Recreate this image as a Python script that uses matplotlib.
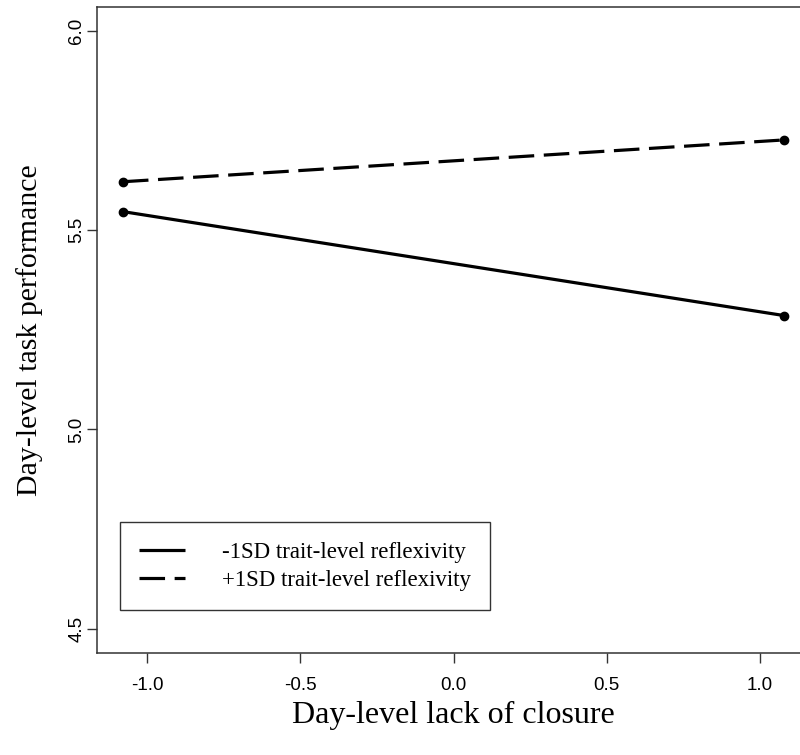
import matplotlib
matplotlib.use("Agg")
import matplotlib.pyplot as plt

# Data
x_vals = [-1.08, 1.08]
low_reflex = [5.547, 5.286]    # -1SD trait-level reflexivity
high_reflex = [5.622, 5.727]   # +1SD trait-level reflexivity
series_labels = ["-1SD trait-level reflexivity", "+1SD trait-level reflexivity"]
x_ticks = [-1.0, -0.5, 0.0, 0.5, 1.0]
y_ticks = [4.5, 5.0, 5.5, 6.0]

fig = plt.figure(figsize=(8, 7.55), dpi=100)
L, R, B, T = 96.5, 810.5, 652.5, 7.3
ax = fig.add_axes([L / 800, (755 - B) / 755, (R - L) / 800, (B - T) / 755])

ax.plot(x_vals, low_reflex, color="black", lw=2.3, ls="-",
        marker="o", ms=6, label=series_labels[0], solid_capstyle="butt")
ax.plot(x_vals, high_reflex, color="black", lw=2.3, ls=(0, (8, 3)),
        marker="o", ms=6, label=series_labels[1], dash_capstyle="butt")

xr = 1.08 * 1.08
ax.set_xlim(-xr, xr)
ax.set_ylim(4.44, 6.06)

ax.set_xticks(x_ticks)
ax.set_xticklabels(["-1.0", "-0.5", "0.0", "0.5", "1.0"],
                   family="Liberation Sans", fontsize=13.5)
ax.set_yticks(y_ticks)
ax.set_yticklabels(["4.5", "5.0", "5.5", "6.0"], family="Liberation Sans",
                   fontsize=13.5, rotation=90, va="center")
ax.tick_params(direction="out", length=7, width=1, color="#333333")
ax.tick_params(axis="x", pad=11)
ax.tick_params(axis="y", pad=1)
for s in ax.spines.values():
    s.set_linewidth(1.1)
    s.set_color("#333333")

ax.set_xlabel("Day-level lack of closure", family="Liberation Serif",
              fontsize=23, labelpad=5)
ax.set_ylabel("Day-level task performance", family="Liberation Serif",
              fontsize=21.5, labelpad=18)

leg = ax.legend(loc="lower left", bbox_to_anchor=((120 - L) / (R - L), (B - 610) / (B - T)),
                prop={"family": "Liberation Serif", "size": 16.5},
                frameon=True, fancybox=False, edgecolor="black",
                handlelength=2.0, borderpad=0.85, labelspacing=0.3,
                handletextpad=1.6, borderaxespad=0)
leg.get_frame().set_linewidth(1.0)
for h in leg.legend_handles:
    h.set_marker("")

fig.savefig("out.png", dpi=100)
